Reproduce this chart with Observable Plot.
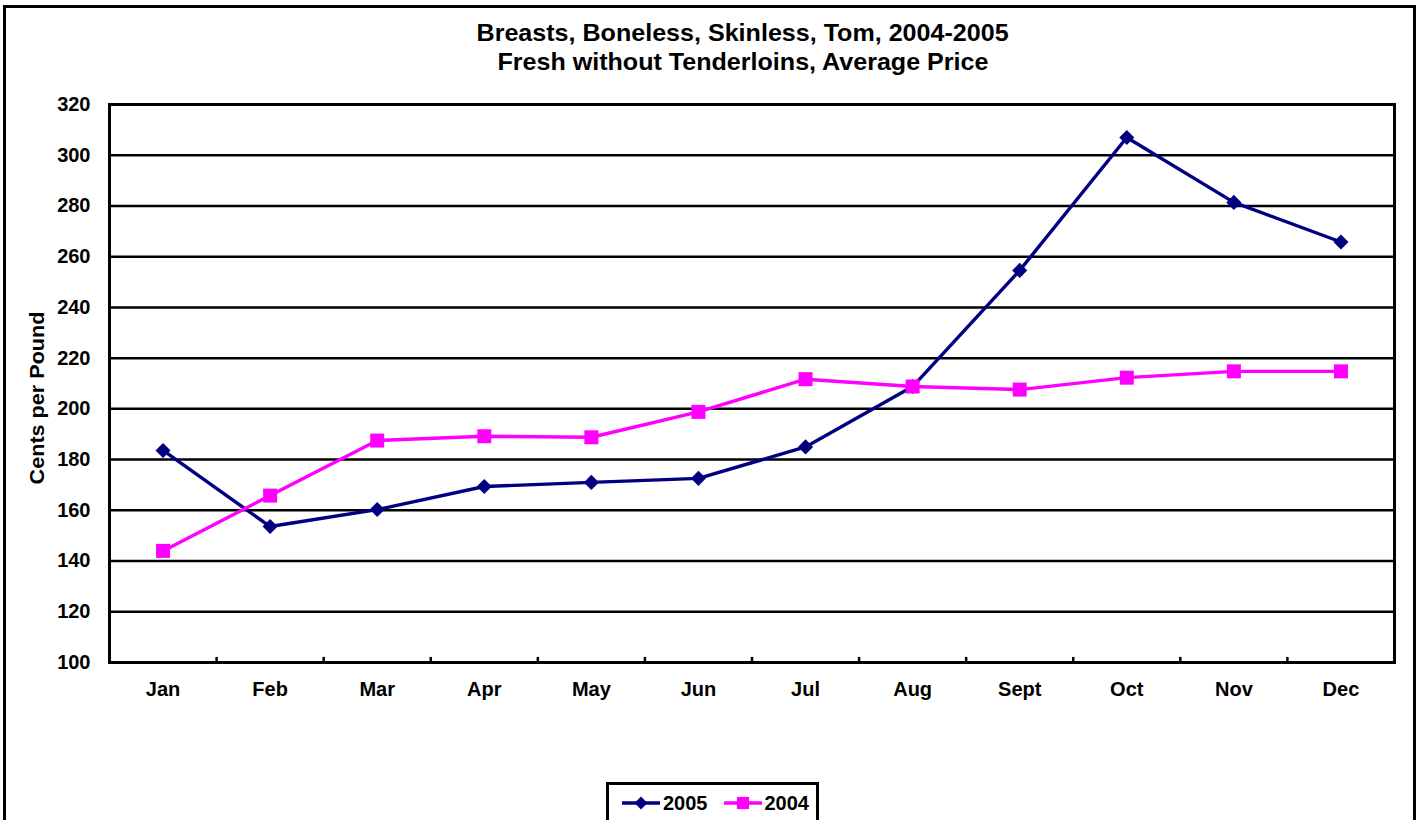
<!DOCTYPE html>
<html>
<head>
<meta charset="utf-8">
<script src="https://cdn.jsdelivr.net/npm/d3@7"></script>
<script src="https://cdn.jsdelivr.net/npm/@observablehq/plot@0.6"></script>
<style>
  body { margin: 0; background: #fff; font-family: "Liberation Sans", Arial, sans-serif; color: #000; }
  #wrap { position: relative; width: 1425px; height: 820px; overflow: hidden; background: #fff; }
  #border { position: absolute; left: 3px; top: 5px; width: 1413px; height: 900px; border: 3px solid #000; box-sizing: border-box; }
  .title { position: absolute; left: 0; width: 1486px; text-align: center; font-weight: bold; font-size: 24px; line-height: 29px; white-space: nowrap; }
  .title span { display: inline-block; transform: scaleX(1.045); }
  #ylabel { position: absolute; left: 37px; top: 398px; font-weight: bold; font-size: 20px; white-space: nowrap;
            transform: translate(-50%, -50%) rotate(-90deg) scaleX(1.08); }
  #chart { position: absolute; left: 0; top: 0; }
  #legend { position: absolute; left: 606px; top: 782px; width: 213px; height: 50px; border: 3px solid #000; box-sizing: border-box;
            background: #fff; display: flex; align-items: flex-start; padding: 7px 0 0 13px; }
  .item { display: flex; align-items: center; height: 22px; }
  .item svg { display: block; }
  .item span { display: inline-block; font-weight: bold; font-size: 20px; margin-left: 3px; }
</style>
</head>
<body>
<div id="wrap">
  <div id="border"></div>
  <div class="title" style="top:18px"><span>Breasts, Boneless, Skinless, Tom, 2004-2005</span></div>
  <div class="title" style="top:47px"><span>Fresh without Tenderloins, Average Price</span></div>
  <div id="ylabel">Cents per Pound</div>
  <div id="chart"></div>
  <div id="legend"></div>
</div>
<script>
const months = ["Jan","Feb","Mar","Apr","May","Jun","Jul","Aug","Sept","Oct","Nov","Dec"];
const monthIndex = d3.range(1, 13);
const price2005 = [183.6, 153.6, 160.3, 169.4, 171.0, 172.6, 185.0, 208.8, 254.6, 307.0, 281.4, 265.8];
const price2004 = [144.0, 165.8, 187.5, 189.2, 188.8, 198.8, 211.7, 208.8, 207.6, 212.3, 214.8, 214.8];
const yTicks = d3.range(100, 321, 20);
const seriesNames = ["2005", "2004"];
const seriesColors = ["#000080", "#FF00FF"];
const seriesSymbols = ["diamond2", "square"];
const seriesR = [6.8, 7.9];
const seriesValues = [price2005, price2004];

const series = seriesNames.map((name, k) => ({
  name, color: seriesColors[k], symbol: seriesSymbols[k], r: seriesR[k],
  data: seriesValues[k].map((v, i) => ({month: monthIndex[i], value: v}))
}));

const boundaries = d3.range(1.5, 12, 1);

const marks = [
  Plot.ruleY(yTicks, {stroke: "#000", strokeWidth: 2.5}),
  Plot.ruleX(boundaries, {y1: 100, y2: 102, stroke: "#000", strokeWidth: 2.5}),
  Plot.frame({stroke: "#000", strokeWidth: 3}),
  Plot.axisY(yTicks, {tickSize: 0, tickPadding: 19, fontSize: 20, fontWeight: "bold", label: null}),
  Plot.axisX(monthIndex, {tickSize: 0, tickPadding: 19, fontSize: 20, fontWeight: "bold", label: null, tickFormat: d => months[d - 1]})
];
for (const s of series) {
  marks.push(Plot.line(s.data, {x: "month", y: "value", stroke: s.color, strokeWidth: 3.4}));
  marks.push(Plot.dot(s.data, {x: "month", y: "value", symbol: () => s.symbol, r: s.r, fill: s.color, stroke: "none"}));
}

const plot = Plot.plot({
  width: 1425,
  height: 820,
  marginLeft: 109,
  marginRight: 31,
  marginTop: 104,
  marginBottom: 158,
  style: {background: "transparent", fontFamily: "'Liberation Sans', Arial, sans-serif", color: "#000", overflow: "visible"},
  x: {type: "linear", domain: [0.5, 12.5]},
  y: {domain: [100, 320]},
  symbol: {type: "identity"},
  marks
});
document.getElementById("chart").appendChild(plot);

// legend
const legend = d3.select("#legend");
series.forEach((s, k) => {
  const item = legend.append("div").attr("class", "item").style("margin-left", k ? "16px" : "0px");
  const svg = item.append("svg").attr("width", 38).attr("height", 16);
  svg.append("line").attr("x1", 0).attr("x2", 38).attr("y1", 8).attr("y2", 8)
    .attr("stroke", s.color).attr("stroke-width", 3.4);
  const sym = s.symbol === "square" ? d3.symbolSquare : d3.symbolDiamond2;
  svg.append("path").attr("transform", "translate(19,8)")
    .attr("d", d3.symbol(sym, Math.PI * s.r * s.r * 0.75)()).attr("fill", s.color);
  item.append("span").text(s.name);
});
</script>
</body>
</html>
